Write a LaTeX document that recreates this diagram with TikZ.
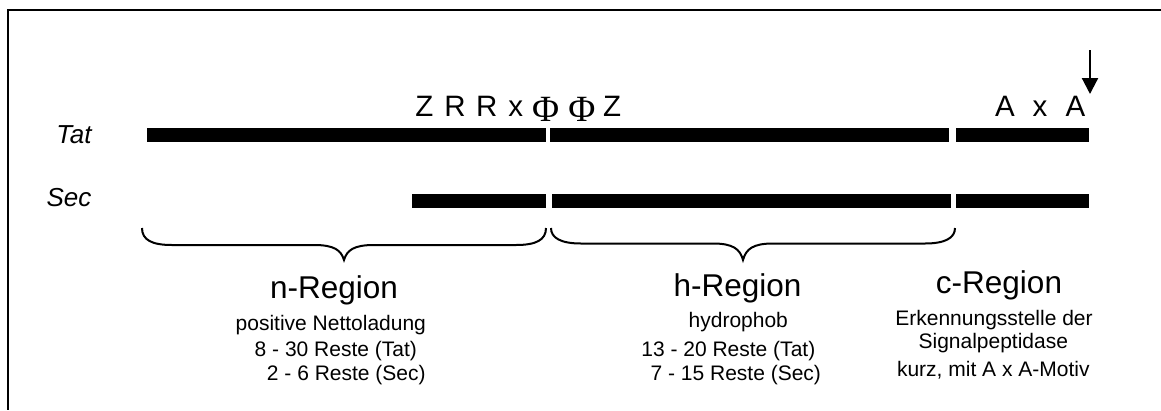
\documentclass[tikz,border=0pt]{standalone}
\usepackage{fontspec}
\setmainfont{Liberation Sans}
\newfontfamily\phifont{Liberation Serif}
\usetikzlibrary{arrows.meta}
\begin{document}
\begin{tikzpicture}[x=1pt,y=-1pt,
 bar/.style={fill=black},
 lbl/.style={anchor=base,inner sep=0pt,font=\fontsize{26}{30}\selectfont\itshape},
 motif/.style={anchor=base,inner sep=0pt,font=\fontsize{29.5}{33}\selectfont},
 phi/.style={anchor=base,inner sep=0pt,font=\fontsize{37}{40}\phifont\selectfont},
 title/.style={anchor=base,inner sep=0pt,font=\fontsize{31.5}{36}\selectfont},
 small/.style={anchor=base,inner sep=0pt,font=\fontsize{21}{25}\selectfont},
 brace/.style={line width=2pt},
 frame/.style={line width=2pt},
]
\useasboundingbox (0,0) rectangle (1161,410);
\draw[frame] (1161,10) -- (8,10) -- (8,410);

% row labels
\node[lbl] (tat) at (74,143) {Tat};
\node[lbl] (sec) at (69,206.7) {Sec};

% Tat bars
\fill[bar] (147,128) rectangle (545.5,141.5);
\fill[bar] (550,128) rectangle (949,141.5);
\fill[bar] (955.5,128) rectangle (1089,141.5);
% Sec bars
\fill[bar] (411.5,194) rectangle (545.5,208);
\fill[bar] (551.5,194) rectangle (950.5,208);
\fill[bar] (956,194) rectangle (1089,208);

% motif
\node[motif] (m1) at (424.5,116.7) {Z};
\node[motif] (m2) at (455,116.7) {R};
\node[motif] (m3) at (486.7,116.7) {R};
\node[motif] (m4) at (515.8,116.7) {x};
\node[phi] (m5) at (545.6,121.5) {Φ};
\node[phi] (m6) at (581.8,121.5) {Φ};
\node[motif] (m7) at (612.2,116.7) {Z};

\node[motif] (a1) at (1005,116.7) {A};
\node[motif] (a2) at (1040,116.7) {x};
\node[motif] (a3) at (1075.5,116.7) {A};

% cleavage arrow
\coordinate (as) at (1090,50);
\coordinate (ae) at (1090,94);
\draw[line width=2.2pt,-{Triangle[length=16pt,width=16pt]}] (as) -- (ae);

% braces
\draw[brace] (142,228) .. controls (142,240) and (152,245) .. (172,245) -- (314,245)
  .. controls (334,245) and (341,250) .. (344,260)
  .. controls (347,250) and (354,245) .. (374,245) -- (516,245)
  .. controls (536,245) and (546,240) .. (546,228);
\draw[brace] (551,228) .. controls (551,238) and (561,243.5) .. (581,243.5) -- (713,243.5)
  .. controls (733,243.5) and (740,249) .. (743,260)
  .. controls (746,249) and (753,243.5) .. (773,243.5) -- (925,243.5)
  .. controls (945,243.5) and (955,238) .. (955,228);

% n-Region
\node[title] (nr) at (334,298) {n-Region};
\node[small] (n1) at (330.8,330) {positive Nettoladung};
\node[small] (n2) at (335.8,356) {8 - 30 Reste (Tat)};
\node[small] (n3) at (346.3,380) {2 - 6 Reste (Sec)};

% h-Region
\node[title] (hr) at (737.5,296) {h-Region};
\node[small] (h1) at (738.3,327) {hydrophob};
\node[small] (h2) at (728.3,356.5) {13 - 20 Reste (Tat)};
\node[small] (h3) at (735.8,380) {7 - 15 Reste (Sec)};

% c-Region
\node[title] (cr) at (999,293) {c-Region};
\node[small] (c1) at (994,325) {Erkennungsstelle der};
\node[small] (c2) at (993.3,348.3) {Signalpeptidase};
\node[small] (c3) at (993.3,376.7) {kurz, mit A x A-Motiv};
\end{tikzpicture}
\end{document}
